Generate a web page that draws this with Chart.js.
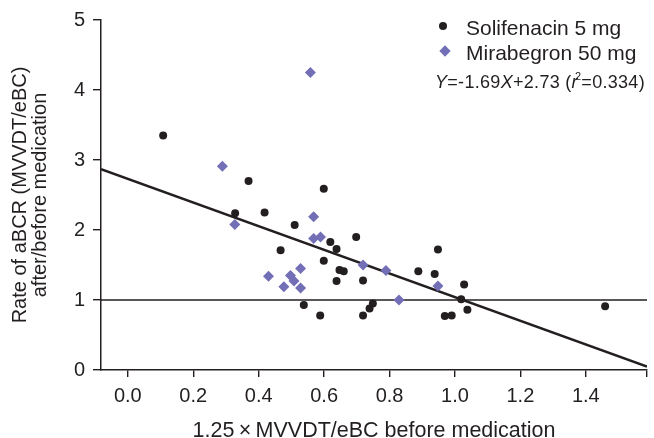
<!DOCTYPE html>
<html>
<head>
<meta charset="utf-8">
<script src="https://cdn.jsdelivr.net/npm/chart.js@4/dist/chart.umd.min.js"></script>
<style>
  html, body { margin: 0; padding: 0; background: #ffffff; }
  #wrap { position: relative; width: 654px; height: 438px; overflow: hidden; }
  #c { position: absolute; left: 0; top: 0; }
  .lg { position: absolute; font-family: "Liberation Sans", Arial, sans-serif; color: #231f20; white-space: nowrap; }
  .lt { font-size: 21px; line-height: 21px; }
  .eq { font-size: 18px; line-height: 18px; letter-spacing: 0.3px; }
  .dot { position: absolute; width: 8px; height: 8px; border-radius: 50%; background: #231f20; }
  .dia { position: absolute; width: 8px; height: 8px; background: #736fb7; transform: rotate(45deg); }
  sup { font-size: 11px; vertical-align: 0; position: relative; top: -8px; margin-left: -3px; }
</style>
</head>
<body>
<div id="wrap">
  <canvas id="c" width="654" height="438"></canvas>
</div>
<script>
// ---- Data ----
const seriesNames = ["Solifenacin 5 mg", "Mirabegron 50 mg"];

const solifenacinX = [0.108, 0.328, 0.369, 0.418, 0.467, 0.510, 0.538, 0.588, 0.599, 0.599,
                      0.619, 0.638, 0.647, 0.660, 0.638, 0.698, 0.719, 0.719, 0.739, 0.749,
                      0.888, 0.938, 0.948, 0.969, 0.990, 1.019, 1.028, 1.038, 1.459];
const solifenacinY = [3.35, 2.24, 2.70, 2.25, 1.71, 2.07, 0.93, 0.78, 2.59, 1.56,
                      1.83, 1.73, 1.43, 1.41, 1.27, 1.90, 1.28, 0.78, 0.88, 0.95,
                      1.41, 1.37, 1.72, 0.77, 0.78, 1.01, 1.22, 0.86, 0.91];

const mirabegronX = [0.289, 0.327, 0.430, 0.477, 0.497, 0.508, 0.528, 0.528,
                     0.558, 0.568, 0.568, 0.589, 0.719, 0.789, 0.829, 0.948];
const mirabegronY = [2.91, 2.08, 1.34, 1.19, 1.35, 1.27, 1.45, 1.17,
                     4.25, 2.19, 1.88, 1.90, 1.50, 1.42, 1.00, 1.20];

const regressionSlope = -1.69;
const regressionIntercept = 2.73;
const regressionR2 = "0.334";
const referenceLevel = [1];

const xTickValues = [0.0, 0.2, 0.4, 0.6, 0.8, 1.0, 1.2, 1.4];
const yTickValues = [0, 1, 2, 3, 4, 5];
const xRange = [-0.082, 1.587];
const yRange = [0, 5];

const xTitle = "1.25\u2009\u00D7\u2009MVVDT/eBC before medication";
const yTitle = ["Rate of aBCR (MVVDT/eBC)", "after/before medication"];

// ---- Build chart ----
const INK = "#231f20";
const PURPLE = "#736fb7";
const FONT = '"Liberation Sans", Arial, sans-serif';

const toPoints = (xs, ys) => xs.map((x, i) => ({ x: x, y: ys[i] }));
const regLine = xRange.map(x => ({ x: x, y: regressionSlope * x + regressionIntercept }));
const refLine = xRange.map(x => ({ x: x, y: referenceLevel[0] }));

new Chart(document.getElementById("c"), {
  type: "scatter",
  data: {
    datasets: [
      { label: seriesNames[0], data: toPoints(solifenacinX, solifenacinY),
        pointStyle: "circle", pointRadius: 4, pointBorderWidth: 0,
        backgroundColor: INK, borderColor: INK, order: 0 },
      { label: seriesNames[1], data: toPoints(mirabegronX, mirabegronY),
        pointStyle: "rectRot", pointRadius: 5.5, pointBorderWidth: 0,
        backgroundColor: PURPLE, borderColor: PURPLE, order: 1 },
      { label: "regression", data: regLine, showLine: true, pointRadius: 0,
        borderColor: INK, borderWidth: 2.6, order: 2 },
      { label: "reference", data: refLine, showLine: true, pointRadius: 0,
        borderColor: INK, borderWidth: 1.4, order: 3 }
    ]
  },
  options: {
    responsive: false,
    animation: false,
    devicePixelRatio: 1,
    layout: { padding: { top: 19, right: 5, bottom: 0, left: 0 } },
    plugins: { legend: { display: false }, tooltip: { enabled: false } },
    scales: {
      x: {
        type: "linear", min: xRange[0], max: xRange[1],
        afterBuildTicks: s => { s.ticks = xTickValues.concat([xRange[1]]).map(v => ({ value: v })); },
        afterFit: s => { s.height = 68; },
        ticks: { autoSkip: false, maxRotation: 0, padding: 7, color: INK,
                 font: { size: 20, family: FONT },
                 callback: v => xTickValues.includes(v) ? v.toFixed(1) : "" },
        grid: { drawOnChartArea: false, drawTicks: true, tickLength: 7, color: INK, lineWidth: 1.4 },
        border: { display: true, color: INK, width: 1.5 },
        title: { display: true, text: xTitle, color: INK,
                 font: { size: 21.5, family: FONT, lineHeight: "13px" }, padding: 0 }
      },
      y: {
        type: "linear", min: yRange[0], max: yRange[1],
        afterBuildTicks: s => { s.ticks = yTickValues.map(v => ({ value: v })); },
        afterFit: s => { s.width = 101; },
        ticks: { padding: 8, color: INK, font: { size: 20, family: FONT } },
        grid: { drawOnChartArea: false, drawTicks: true, tickLength: 8, color: INK, lineWidth: 1.4 },
        border: { display: true, color: INK, width: 1.5 },
        title: { display: true, text: yTitle, color: INK,
                 font: { size: 20, family: FONT, lineHeight: "19.5px" }, padding: { top: 11, bottom: 0 } }
      }
    }
  }
});

// ---- Legend and equation (HTML text) ----
const wrap = document.getElementById("wrap");
function add(html, cls, left, top) {
  const d = document.createElement("div");
  d.className = cls;
  d.style.left = left + "px";
  d.style.top = top + "px";
  d.innerHTML = html;
  wrap.appendChild(d);
  return d;
}
add("", "dot", 439, 22);
add(seriesNames[0], "lg lt", 466, 17);
add("", "dia", 441, 47);
add(seriesNames[1], "lg lt", 466, 42);
const fmt = n => n.toFixed(2);
add("<i>Y</i>=" + fmt(regressionSlope) + "<i>X</i>+" + fmt(regressionIntercept) +
    " (<i>r</i><sup>2</sup>=" + regressionR2 + ")", "lg eq", 435, 73);
</script>
</body>
</html>
